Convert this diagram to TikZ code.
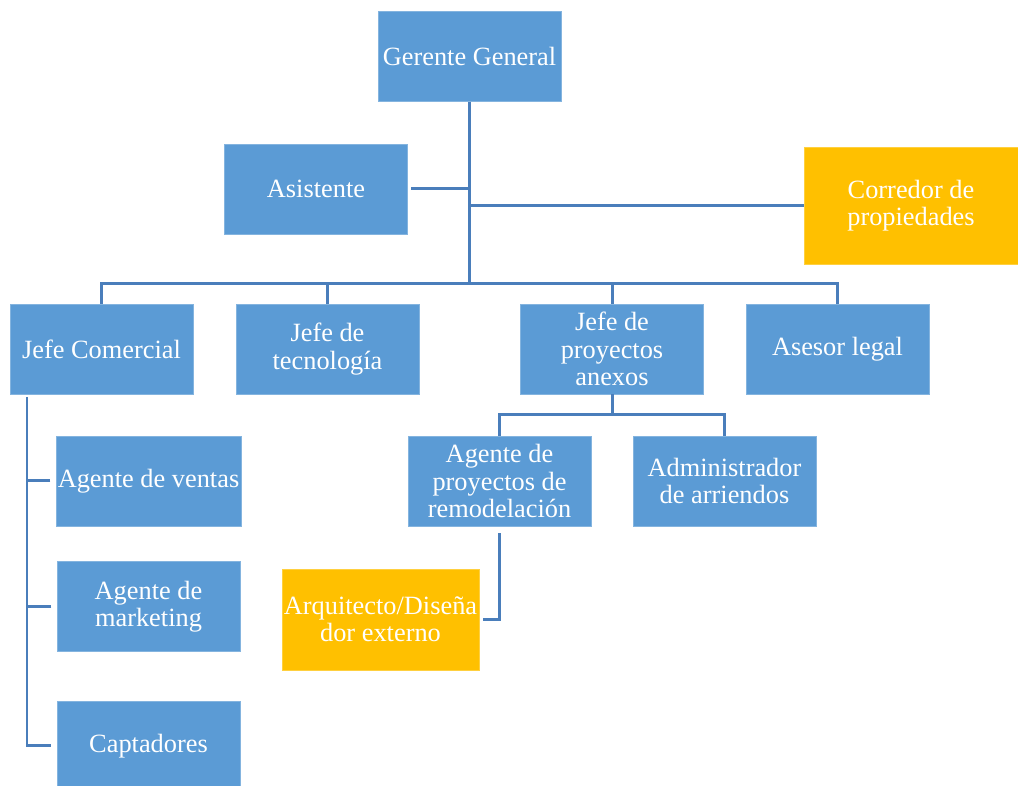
\documentclass[tikz,border=0pt]{standalone}
\usepackage{fontspec}
\setmainfont{Liberation Serif}
\usepackage{tikz}
\usetikzlibrary{calc}

\definecolor{boxblue}{HTML}{5B9BD5}
\definecolor{boxorange}{HTML}{FFC000}
\definecolor{linkblue}{HTML}{4A7EBB}

\begin{document}
\begin{tikzpicture}[
    x=0.02cm, y=-0.02cm,
    font=\fontsize{15}{15.6}\selectfont,
    box/.style={rectangle, draw=boxblue!75!white, line width=0.4pt, fill=boxblue, text=white, align=center, minimum width=3.66cm, minimum height=1.8cm, inner sep=1pt},
    extbox/.style={box, draw=boxorange!75!white, fill=boxorange},
    line/.style={draw, line width=0.06cm, linkblue}
]
\useasboundingbox (0,0) rectangle (1018,786);

% Nodes
\node[box] (gerente) at (469.5,56.5) {Gerente General};
\node[box] (asistente) at (316,189) {Asistente};
\node[extbox, minimum width=4.28cm, minimum height=2.34cm] (corredor) at (911,205.5) {Corredor de\\propiedades};

\node[box] (jefeCom) at (101.5,349) {Jefe Comercial};
\node[box] (jefeTec) at (327.5,349) {Jefe de\\tecnología};
\node[box] (jefeProy) at (612,349) {Jefe de\\proyectos\\anexos};
\node[box] (asesor) at (837.5,349) {Asesor legal};

\node[box] (agVentas) at (148.5,481) {Agente de ventas};
\node[box] (agMarketing) at (148.5,606.5) {Agente de\\marketing};
\node[box] (captadores) at (148.5,746) {Captadores};

\node[box] (agProy) at (499.5,481) {Agente de\\proyectos de\\remodelación};
\node[box] (admin) at (724.5,481) {Administrador\\de arriendos};
\node[extbox, minimum width=3.9cm, minimum height=2.02cm] (arquitecto) at (380.5,619.5) {Arquitecto/Diseña\\dor externo};

% Edges
\coordinate (bus) at (469.5,284);
\draw[line] (gerente.south) -- (bus);
\draw[line] (jefeCom.north) |- (bus) -| (asesor.north);
\draw[line] (jefeTec.north) -- (jefeTec.north |- bus);
\draw[line] (jefeProy.north) -- (jefeProy.north |- bus);
\draw[line, shorten <=2] (asistente.east) -- (asistente.east -| gerente.south);
\draw[line] (corredor.west) -- (corredor.west -| gerente.south);

% Jefe Comercial branch
\coordinate (comTop) at (27,397);
\draw[line] (comTop) |- ([xshift=-3]captadores.west);
\draw[line, shorten <=3] (agVentas.west) -- (agVentas.west -| comTop);
\draw[line, shorten <=3] (agMarketing.west) -- (agMarketing.west -| comTop);

% Jefe de proyectos branch
\draw[line] (jefeProy.south) -- ++(0,20) coordinate (proyBus);
\draw[line] (agProy.north) |- (proyBus) -| (admin.north);
\draw[line, shorten <=4] (agProy.south) |- ([xshift=2]arquitecto.east);

\end{tikzpicture}
\end{document}
